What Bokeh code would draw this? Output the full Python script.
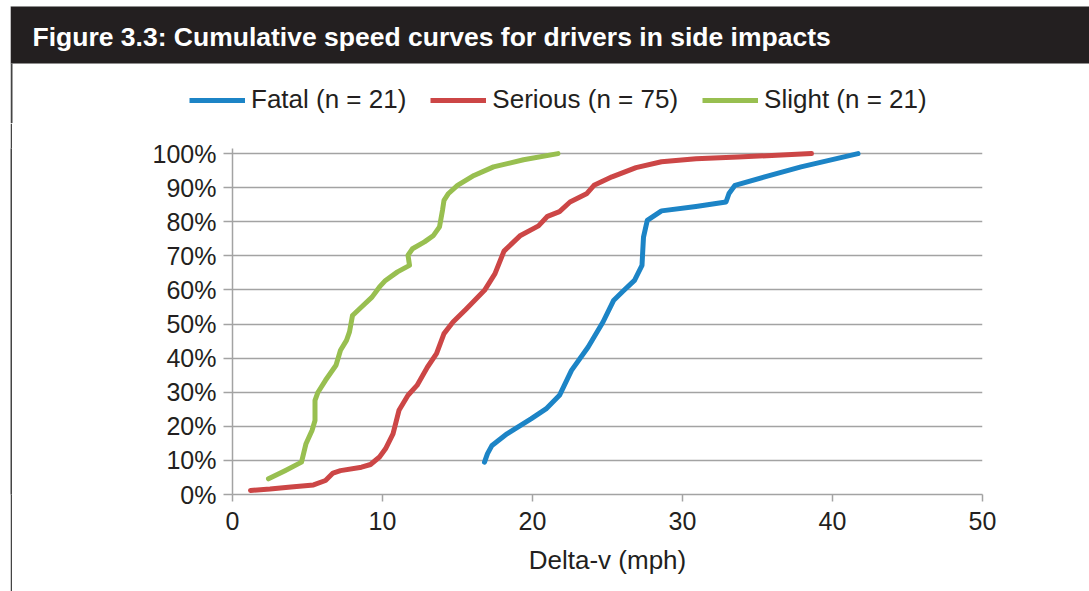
from bokeh.plotting import figure
from bokeh.models import (Range1d, Label, Legend, LegendItem, BoxAnnotation, Spacer,
                          SingleIntervalTicker, PrintfTickFormatter)
from bokeh.layouts import column, row
from bokeh.embed import file_html
from bokeh.resources import INLINE

# ---------------- data ----------------
title_text = "Figure 3.3: Cumulative speed curves for drivers in side impacts"
x_label = "Delta-v (mph)"
series_names = ["Fatal (n = 21)", "Serious (n = 75)", "Slight (n = 21)"]

fatal_x = [16.8, 17.0, 17.3, 18.3, 19.9, 20.9, 21.8, 22.6, 23.7, 24.7, 25.4, 26.1,
           26.8, 27.3, 27.35, 27.4, 27.65, 28.6, 30.9, 32.9, 33.1, 33.5, 35.6, 37.9, 41.7]
fatal_y = [9.5, 12.0, 14.4, 17.8, 22.2, 25.1, 29.1, 36.4, 43.2, 50.6, 56.9, 59.9,
           62.8, 67.2, 71.5, 75.5, 80.4, 83.2, 84.5, 85.8, 88.3, 90.7, 93.3, 96.1, 100.0]

serious_x = [1.2, 2.5, 3.9, 5.4, 6.2, 6.7, 7.2, 8.6, 9.2, 9.8, 10.2, 10.7, 11.1, 11.7,
             12.3, 13.0, 13.6, 14.1, 14.7, 15.6, 16.8, 17.5, 18.1, 19.2, 20.4, 21.0,
             21.8, 22.5, 23.6, 24.1, 25.3, 26.9, 28.6, 30.9, 33.7, 38.6]
serious_y = [1.2, 1.6, 2.2, 2.8, 4.1, 6.3, 7.0, 8.0, 8.8, 11.0, 13.4, 17.8, 24.7, 29.1,
             32.0, 37.4, 41.3, 47.2, 50.6, 54.5, 59.9, 64.8, 71.4, 76.0, 78.8, 81.6,
             83.0, 85.8, 88.2, 90.7, 93.2, 95.9, 97.6, 98.5, 99.0, 100.0]

slight_x = [2.4, 3.5, 4.6, 4.9, 5.3, 5.5, 5.5, 5.7, 6.2, 6.9, 7.2, 7.6, 7.8, 8.0, 8.6,
            9.3, 9.8, 10.2, 11.0, 11.8, 11.7, 12.0, 12.8, 13.4, 13.8, 14.0, 14.1, 14.4,
            15.0, 16.1, 17.4, 19.4, 21.7]
slight_y = [4.6, 7.0, 9.5, 14.9, 18.8, 21.7, 27.6, 30.0, 33.5, 37.9, 42.3, 45.2, 47.7,
            52.5, 55.0, 57.9, 60.9, 62.8, 65.3, 67.2, 70.2, 72.1, 74.1, 76.0, 78.5, 83.4,
            86.3, 88.3, 90.7, 93.6, 96.1, 98.2, 100.0]

series_x = [fatal_x, serious_x, slight_x]
series_y = [fatal_y, serious_y, slight_y]

# ---------------- style ----------------
FONT = "Liberation Sans"
TEXT = "#231f20"
BAR = "#231f20"
EDGE = "#444444"
GRID = "#a3a3a3"
BLUE = "#1c84c6"
RED = "#cc4646"
GREEN = "#98bf50"
COLORS = [BLUE, RED, GREEN]

W, H = 1089, 591
HEAD_H = 123          # title bar + legend band
PAD_L = 10
STRIP_W = 2
CW = W - PAD_L - STRIP_W
CH = H - HEAD_H

# ---------------- header: title bar + legend ----------------
hf = figure(width=W, height=HEAD_H, output_backend="svg", toolbar_location=None,
            x_range=Range1d(0, W - PAD_L), y_range=Range1d(HEAD_H, 0),
            x_axis_type=None, y_axis_type=None,
            min_border_left=PAD_L, min_border_right=0, min_border_top=0, min_border_bottom=0)
hf.outline_line_color = None
hf.border_fill_color = "white"
hf.background_fill_color = "white"

hf.add_layout(BoxAnnotation(left=0, right=W - PAD_L, top=6, bottom=63,
                            fill_color=BAR, fill_alpha=1.0,
                            line_color="#8c8c8c", line_width=1))
hf.add_layout(BoxAnnotation(left=0, right=STRIP_W, top=63, bottom=HEAD_H,
                            fill_color=EDGE, fill_alpha=1.0, line_color=None))
hf.add_layout(Label(x=22, y=36.7, text=title_text,
                    text_color="white", text_font=FONT, text_font_style="bold",
                    text_font_size="26.5px", text_baseline="middle"))

# series renderers for the legend live on an off-screen range of the header
hf.extra_x_ranges = {"off": Range1d(1000, 1001)}
leg_renderers = [hf.line(x, y, x_range_name="off", line_color=c, line_width=5)
                 for x, y, c in zip(series_x, series_y, COLORS)]
legend = Legend(items=[LegendItem(label=n, renderers=[r])
                       for n, r in zip(series_names, leg_renderers)],
                orientation="horizontal", location=(179, 8),
                glyph_width=56, glyph_height=30, label_height=30,
                label_standoff=6, spacing=24, padding=0, margin=0,
                border_line_color=None, background_fill_alpha=0,
                label_text_font=FONT, label_text_font_size="26px", label_text_color=TEXT)
hf.add_layout(legend)

# ---------------- left border line ----------------
sf = figure(width=STRIP_W, height=CH, output_backend="svg", toolbar_location=None,
            x_range=Range1d(0, 1), y_range=Range1d(0, 1),
            x_axis_type=None, y_axis_type=None,
            min_border_left=0, min_border_right=0, min_border_top=0, min_border_bottom=0)
sf.outline_line_color = None
sf.border_fill_color = EDGE
sf.background_fill_color = EDGE

# ---------------- chart ----------------
p = figure(width=CW, height=CH, output_backend="svg", toolbar_location=None,
           x_range=Range1d(0, 50), y_range=Range1d(0, 101.5),
           min_border_left=220, min_border_right=CW - 970, min_border_top=25,
           min_border_bottom=CH - 371)
p.outline_line_color = None
p.background_fill_color = "white"
p.border_fill_color = "white"

for x, y, c in zip(series_x, series_y, COLORS):
    p.line(x, y, line_color=c, line_width=5, line_join="round", line_cap="round")

p.xgrid.visible = False
p.ygrid.grid_line_color = GRID
p.ygrid.grid_line_width = 1.5

p.xaxis.ticker = SingleIntervalTicker(interval=10, num_minor_ticks=0)
p.yaxis.ticker = SingleIntervalTicker(interval=10, num_minor_ticks=0)
p.yaxis.formatter = PrintfTickFormatter(format="%d%%")

for ax in (p.xaxis, p.yaxis):
    ax.axis_line_color = GRID
    ax.axis_line_width = 1.5
    ax.major_tick_line_color = GRID
    ax.major_tick_line_width = 1.5
    ax.major_tick_in = 0
    ax.minor_tick_line_color = None
    ax.major_label_text_font = FONT
    ax.major_label_text_font_size = "25px"
    ax.major_label_text_color = TEXT

p.xaxis.major_tick_out = 7
p.xaxis.major_label_standoff = 10
p.yaxis.major_tick_out = 9
p.yaxis.major_label_standoff = 7

p.xaxis.axis_label = x_label
p.xaxis.axis_label_text_font = FONT
p.xaxis.axis_label_text_font_size = "26px"
p.xaxis.axis_label_text_font_style = "normal"
p.xaxis.axis_label_text_color = TEXT
p.xaxis.axis_label_standoff = 12

layout = column(hf, row(Spacer(width=PAD_L, height=CH), sf, p))

open("out.html", "w").write(file_html(layout, INLINE))
